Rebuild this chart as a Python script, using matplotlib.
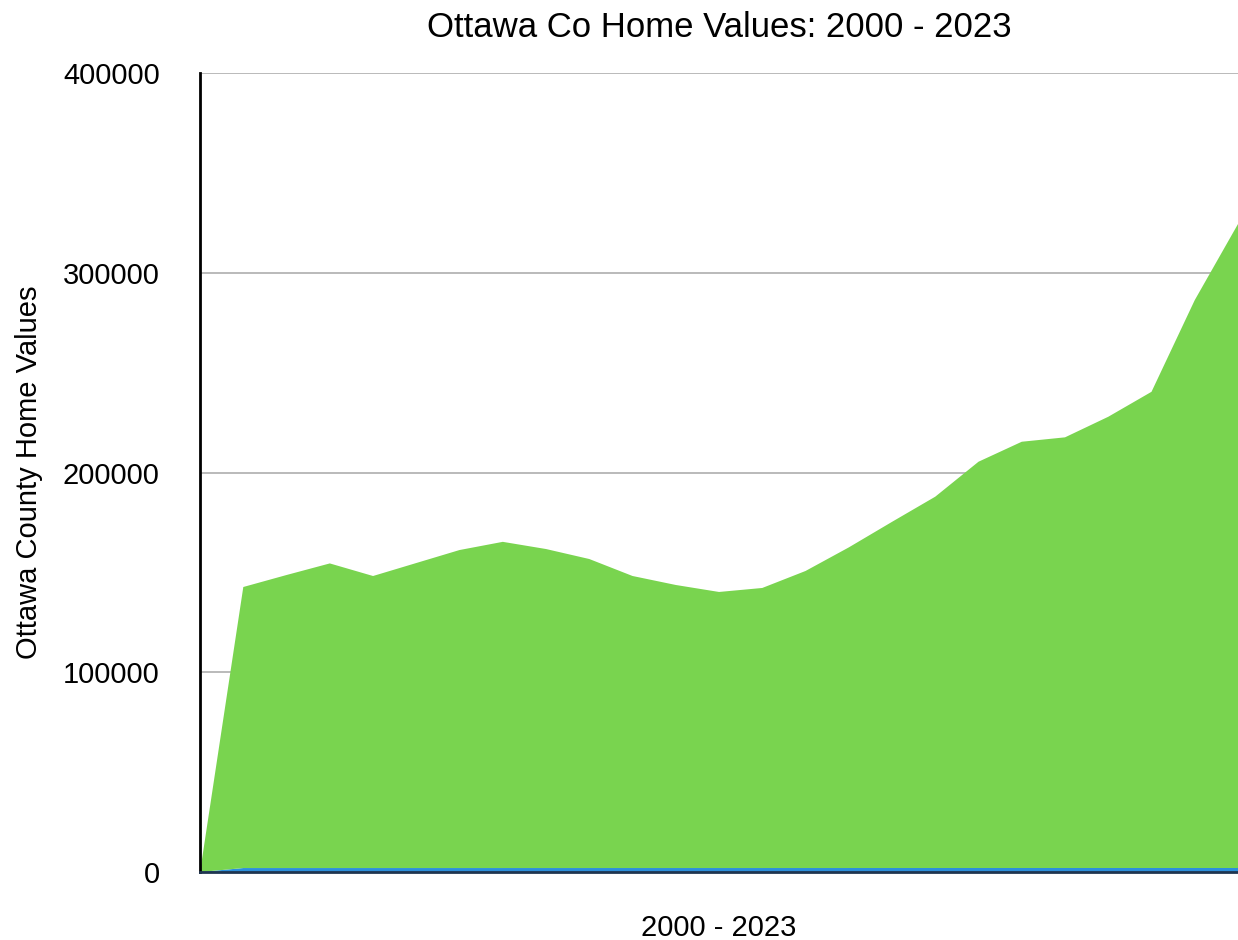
import matplotlib.pyplot as plt

plt.rcParams['font.family'] = ['Liberation Sans', 'DejaVu Sans']

# points along the x axis (first row has no value)
points = list(range(25))

# thin blue band at the bottom: the year column, stacked under the values
years = [0, 2000, 2001, 2002, 2003, 2004, 2005, 2006, 2007, 2008, 2009, 2010,
         2011, 2012, 2013, 2014, 2015, 2016, 2017, 2018, 2019, 2020, 2021, 2022, 2023]

# home values
home_values = [0, 140700, 146700, 152500, 146200, 152700, 159200, 163300, 159700,
               154700, 146200, 141700, 138200, 140200, 148700, 160500, 173300,
               185900, 203400, 213400, 215600, 225900, 238400, 284300, 322400]

fig = plt.figure(figsize=(12.38, 9.4), dpi=100)
ax = fig.add_axes([0.1616, 0.0723, 0.8384, 0.85])

ax.stackplot(points, years, home_values, colors=['#2b8fdc', '#79d44f'], zorder=2)

ax.set_xlim(0, 24)
ax.set_ylim(0, 400000)
ax.set_yticks([0, 100000, 200000, 300000, 400000])
ax.set_yticklabels(['0', '100000', '200000', '300000', '400000'])
ax.set_xticks([])
ax.yaxis.grid(True, color='#b4b4b4', linewidth=1.3, zorder=0)
ax.set_axisbelow(True)
ax.tick_params(axis='y', length=0, pad=29, labelsize=21)

for side in ['top', 'right']:
    ax.spines[side].set_visible(False)
ax.spines['left'].set_linewidth(2)
ax.spines['bottom'].set_linewidth(2)
ax.spines['bottom'].set_color('#1f3550')
ax.spines['left'].set_zorder(4)
ax.spines['bottom'].set_zorder(4)

ax.set_title('Ottawa Co Home Values: 2000 - 2023', fontsize=25, pad=26)
ax.set_xlabel('2000 - 2023', fontsize=21, labelpad=30)
ax.set_ylabel('Ottawa County Home Values', fontsize=21, labelpad=14)

fig.savefig('out.png', dpi=100)
